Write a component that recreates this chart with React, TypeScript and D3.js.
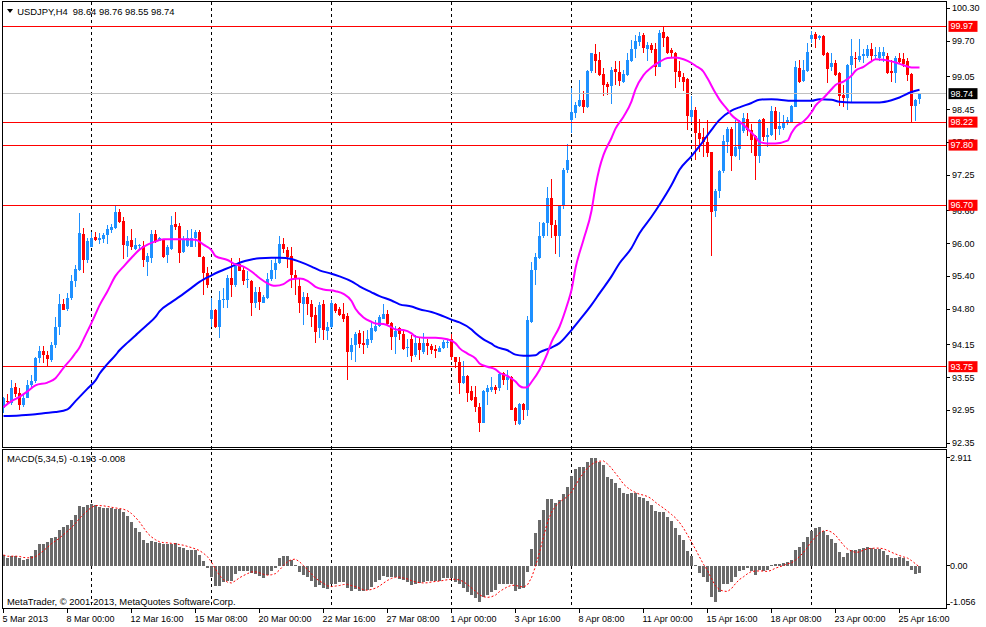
import * as d3 from 'd3';

// USDJPY H4 bars, 5 Mar 2013 08:00 .. 26 Apr 2013
const opens = [
  93.00, 93.12, 93.08, 93.37, 93.27, 93.05, 93.18, 93.42, 93.48, 93.90,
  94.04, 93.96, 93.87, 94.15, 94.48, 94.90, 94.80, 95.00, 95.32, 95.52,
  96.18, 95.70, 95.94, 96.12, 96.07, 96.08, 96.16, 96.24, 96.28, 96.58,
  96.42, 95.96, 96.07, 95.91, 95.95, 95.96, 95.67, 95.74, 96.17, 96.05,
  96.07, 95.79, 95.90, 96.36, 96.32, 95.85, 95.96, 95.94, 96.11, 96.22,
  95.76, 95.46, 94.62, 94.79, 94.48, 94.96, 94.96, 95.38, 95.24, 95.62,
  95.52, 95.33, 95.32, 94.91, 95.12, 94.92, 95.00, 95.36, 95.52, 95.64,
  95.99, 95.88, 95.77, 95.43, 95.23, 94.90, 95.03, 94.90, 94.70, 94.45,
  94.90, 94.40, 94.47, 94.90, 94.80, 94.71, 94.68, 94.01, 94.15, 94.36,
  94.19, 94.15, 94.24, 94.41, 94.49, 94.63, 94.71, 94.54, 94.30, 94.45,
  94.35, 94.10, 94.25, 93.96, 94.18, 94.02, 94.19, 94.13, 94.07, 94.02,
  94.09, 94.19, 94.25, 93.92, 93.84, 93.45, 93.58, 93.31, 93.19, 93.02,
  92.73, 93.29, 93.32, 93.38, 93.36, 93.63, 93.50, 93.57, 92.99, 92.71,
  93.07, 92.96, 94.57, 95.52, 95.73, 96.13, 96.37, 96.83, 96.34, 96.13,
  96.68, 97.35, 98.25, 98.38, 98.52, 98.63, 98.49, 99.15, 99.46, 99.36,
  99.10, 98.92, 98.88, 99.19, 99.14, 98.96, 99.08, 99.33, 99.55, 99.69,
  99.81, 99.55, 99.63, 99.55, 99.23, 99.87, 99.77, 99.53, 99.49, 99.16,
  99.05, 99.00, 98.32, 98.45, 98.02, 97.95, 97.86, 97.68, 96.59, 96.97,
  97.32, 97.86, 98.09, 97.60, 97.73, 98.05, 98.27, 98.07, 97.97, 97.60,
  98.27, 97.95, 97.99, 98.43, 98.09, 98.11, 98.21, 98.23, 98.50, 99.20,
  98.98, 99.16, 99.73, 99.83, 99.75, 99.79, 99.49, 99.22, 99.30, 99.12,
  98.72, 98.66, 99.26, 99.39, 99.36, 99.42, 99.42, 99.55, 99.42, 99.39,
  99.43, 99.42, 99.16, 99.11, 99.40, 99.37, 99.33, 99.10, 98.51, 98.64,
];
const highs = [
  93.20, 93.26, 93.51, 93.45, 93.36, 93.23, 93.51, 93.60, 93.93, 94.12,
  94.12, 94.03, 94.21, 94.66, 95.08, 94.99, 95.09, 95.43, 95.61, 96.55,
  96.29, 96.10, 96.22, 96.22, 96.19, 96.19, 96.34, 96.36, 96.69, 96.63,
  96.49, 96.13, 96.26, 96.10, 96.00, 96.04, 95.83, 96.25, 96.25, 96.12,
  96.08, 95.97, 96.50, 96.57, 96.38, 96.13, 96.25, 96.27, 96.25, 96.25,
  95.77, 95.58, 95.00, 94.80, 95.13, 95.18, 95.43, 95.73, 95.64, 95.73,
  95.59, 95.50, 95.34, 95.21, 95.21, 95.06, 95.46, 95.70, 95.76, 96.14,
  96.10, 95.94, 95.94, 95.52, 95.38, 95.12, 95.09, 94.97, 94.85, 94.94,
  94.97, 94.57, 94.96, 94.92, 94.85, 94.92, 94.74, 94.27, 94.39, 94.42,
  94.41, 94.42, 94.59, 94.60, 94.70, 94.90, 94.79, 94.57, 94.49, 94.47,
  94.42, 94.25, 94.33, 94.33, 94.27, 94.37, 94.25, 94.16, 94.15, 94.13,
  94.24, 94.24, 94.35, 93.93, 93.92, 93.86, 93.60, 93.40, 93.39, 93.08,
  93.33, 93.42, 93.57, 93.42, 93.66, 93.66, 93.69, 93.58, 93.02, 93.09,
  93.09, 94.68, 95.67, 95.82, 96.40, 96.40, 97.04, 97.18, 96.43, 96.69,
  97.38, 97.82, 98.84, 98.59, 98.99, 98.78, 99.17, 99.49, 99.65, 99.51,
  99.20, 98.96, 99.23, 99.33, 99.33, 99.17, 99.48, 99.72, 99.81, 99.86,
  99.84, 99.69, 99.67, 99.66, 99.90, 99.95, 99.80, 99.57, 99.51, 99.33,
  99.11, 99.02, 98.70, 98.49, 98.27, 98.11, 98.25, 97.68, 97.00, 97.35,
  97.99, 98.13, 98.13, 98.26, 98.26, 98.38, 98.38, 98.19, 97.99, 98.27,
  98.29, 98.11, 98.52, 98.49, 98.41, 98.35, 98.32, 98.53, 99.34, 99.36,
  99.36, 99.67, 99.89, 99.86, 99.81, 99.81, 99.51, 99.49, 99.36, 99.14,
  98.90, 99.28, 99.73, 99.51, 99.73, 99.55, 99.63, 99.67, 99.60, 99.60,
  99.59, 99.49, 99.36, 99.43, 99.48, 99.48, 99.40, 99.11, 98.64, 98.76,
];
const lows = [
  92.90, 93.05, 93.05, 93.20, 92.96, 93.02, 93.18, 93.36, 93.45, 93.81,
  93.81, 93.75, 93.84, 94.09, 94.33, 94.78, 94.76, 94.97, 95.21, 95.49,
  95.46, 95.64, 95.93, 96.04, 96.00, 96.01, 96.00, 96.19, 96.26, 96.38,
  95.71, 95.76, 95.88, 95.88, 95.89, 95.57, 95.41, 95.64, 96.01, 96.04,
  95.73, 95.64, 95.88, 96.25, 95.65, 95.83, 95.94, 95.93, 95.93, 95.75,
  95.06, 95.18, 94.48, 94.45, 94.28, 94.82, 94.82, 95.03, 95.20, 95.49,
  95.24, 95.18, 94.68, 94.82, 94.79, 94.91, 94.98, 95.32, 95.35, 95.63,
  95.82, 95.55, 95.18, 95.06, 94.73, 94.51, 94.69, 94.48, 94.18, 94.28,
  94.24, 94.24, 94.45, 94.73, 94.68, 94.57, 93.50, 93.88, 93.84, 94.09,
  93.98, 94.09, 94.18, 94.39, 94.47, 94.62, 94.51, 94.06, 93.99, 94.24,
  94.06, 93.93, 93.84, 93.93, 93.88, 93.99, 93.96, 93.98, 93.90, 94.01,
  94.07, 94.09, 93.88, 93.72, 93.25, 93.43, 93.11, 93.13, 92.93, 92.55,
  92.72, 93.05, 93.29, 93.26, 93.31, 93.42, 93.32, 92.95, 92.69, 92.69,
  92.78, 92.85, 94.54, 95.24, 95.71, 96.10, 96.13, 96.10, 95.81, 95.75,
  96.64, 97.29, 98.03, 98.29, 98.49, 98.38, 98.47, 99.12, 99.11, 99.06,
  98.69, 98.72, 98.56, 98.90, 98.88, 98.93, 99.06, 99.31, 99.39, 99.61,
  99.48, 99.33, 99.48, 99.06, 99.22, 99.60, 99.47, 99.39, 98.84, 98.96,
  98.78, 98.08, 98.23, 97.53, 97.68, 97.59, 97.59, 95.77, 96.49, 96.83,
  97.29, 97.65, 97.32, 97.59, 97.53, 98.02, 97.97, 97.65, 97.16, 97.48,
  97.88, 97.77, 97.97, 97.89, 97.99, 98.08, 98.17, 98.20, 98.49, 98.93,
  98.96, 99.14, 99.66, 99.57, 99.72, 99.43, 98.94, 99.16, 99.06, 98.52,
  98.49, 98.44, 98.58, 99.20, 99.31, 99.30, 99.39, 99.31, 99.37, 99.34,
  99.31, 99.10, 98.96, 98.94, 99.28, 99.23, 98.98, 98.20, 98.24, 98.55,
];
const closes = [
  93.17, 93.10, 93.36, 93.26, 93.05, 93.17, 93.42, 93.48, 93.90, 94.04,
  93.96, 93.89, 94.15, 94.47, 94.90, 94.79, 95.00, 95.32, 95.54, 96.19,
  95.70, 96.05, 96.10, 96.07, 96.11, 96.16, 96.27, 96.31, 96.58, 96.40,
  95.97, 96.05, 95.93, 95.97, 95.97, 95.70, 95.77, 96.17, 96.05, 96.10,
  95.76, 95.93, 96.34, 96.31, 95.82, 96.08, 96.10, 96.11, 96.21, 95.76,
  95.46, 95.24, 94.79, 94.48, 94.97, 94.98, 95.38, 95.24, 95.61, 95.50,
  95.31, 95.35, 94.91, 95.12, 94.94, 95.03, 95.36, 95.52, 95.65, 95.99,
  95.90, 95.76, 95.43, 95.35, 94.91, 95.03, 94.90, 94.66, 94.39, 94.88,
  94.42, 94.47, 94.92, 94.76, 94.70, 94.63, 94.01, 94.15, 94.35, 94.17,
  94.15, 94.25, 94.45, 94.49, 94.65, 94.71, 94.53, 94.30, 94.41, 94.35,
  94.07, 94.11, 93.95, 94.18, 94.06, 94.19, 94.12, 94.06, 94.04, 94.10,
  94.21, 94.21, 93.92, 93.84, 93.45, 93.58, 93.27, 93.15, 93.02, 92.73,
  93.31, 93.36, 93.38, 93.32, 93.62, 93.51, 93.56, 92.96, 92.75, 93.07,
  92.96, 94.60, 95.52, 95.75, 96.13, 96.37, 96.83, 96.34, 96.14, 96.68,
  97.35, 97.53, 98.41, 98.53, 98.63, 98.50, 99.16, 99.48, 99.33, 99.09,
  98.90, 98.87, 99.17, 99.14, 98.98, 99.10, 99.36, 99.55, 99.71, 99.79,
  99.57, 99.63, 99.54, 99.22, 99.84, 99.75, 99.48, 99.48, 99.14, 99.04,
  98.96, 98.33, 98.45, 98.02, 97.92, 97.85, 97.66, 96.57, 96.97, 97.32,
  97.88, 98.09, 97.60, 97.77, 98.23, 98.29, 98.07, 97.89, 97.60, 98.25,
  97.95, 97.99, 98.43, 98.09, 98.14, 98.23, 98.25, 98.52, 99.23, 98.96,
  99.17, 99.51, 99.81, 99.73, 99.79, 99.45, 99.19, 99.30, 99.08, 98.70,
  98.66, 99.26, 99.42, 99.37, 99.42, 99.46, 99.55, 99.42, 99.45, 99.51,
  99.51, 99.12, 99.12, 99.40, 99.32, 99.29, 99.08, 98.52, 98.63, 98.74,
];

// MACD(5,34,5) main histogram
const macdMain = [
  0.29, 0.22, 0.26, 0.26, 0.22, 0.15, 0.18, 0.26, 0.42, 0.58,
  0.58, 0.65, 0.75, 0.78, 0.96, 1.05, 1.11, 1.23, 1.37, 1.61,
  1.59, 1.64, 1.65, 1.63, 1.59, 1.56, 1.55, 1.55, 1.53, 1.52,
  1.46, 1.35, 1.17, 1.02, 0.90, 0.69, 0.60, 0.66, 0.65, 0.62,
  0.58, 0.58, 0.58, 0.60, 0.51, 0.49, 0.42, 0.42, 0.42, 0.29,
  0.13, -0.05, -0.30, -0.54, -0.54, -0.43, -0.41, -0.41, -0.23, -0.14,
  -0.14, -0.14, -0.19, -0.21, -0.28, -0.34, -0.25, -0.14, -0.05, 0.20,
  0.26, 0.26, 0.15, 0.02, -0.16, -0.25, -0.30, -0.41, -0.57, -0.52,
  -0.59, -0.63, -0.50, -0.50, -0.45, -0.45, -0.61, -0.67, -0.63, -0.67,
  -0.67, -0.66, -0.57, -0.45, -0.39, -0.27, -0.30, -0.30, -0.31, -0.36,
  -0.39, -0.43, -0.52, -0.48, -0.46, -0.43, -0.41, -0.41, -0.41, -0.41,
  -0.34, -0.32, -0.34, -0.43, -0.48, -0.59, -0.70, -0.79, -0.88, -0.97,
  -0.84, -0.79, -0.70, -0.66, -0.50, -0.50, -0.48, -0.50, -0.67, -0.63,
  -0.61, -0.16, 0.45, 0.87, 1.23, 1.50, 1.80, 1.80, 1.68, 1.77,
  1.92, 2.13, 2.42, 2.60, 2.67, 2.67, 2.80, 2.91, 2.91, 2.79,
  2.71, 2.40, 2.33, 2.22, 2.10, 1.95, 1.92, 1.95, 1.95, 1.86,
  1.83, 1.74, 1.64, 1.47, 1.46, 1.46, 1.32, 1.20, 1.01, 0.84,
  0.69, 0.40, 0.26, 0.02, -0.19, -0.30, -0.43, -0.84, -0.97, -0.70,
  -0.48, -0.48, -0.45, -0.30, -0.14, -0.12, -0.07, -0.14, -0.25, -0.12,
  -0.14, -0.12, 0.02, 0.04, 0.04, 0.06, 0.09, 0.15, 0.42, 0.51,
  0.63, 0.78, 0.93, 1.01, 1.05, 0.93, 0.83, 0.71, 0.60, 0.38,
  0.24, 0.33, 0.42, 0.42, 0.45, 0.49, 0.51, 0.47, 0.45, 0.45,
  0.40, 0.29, 0.22, 0.22, 0.24, 0.22, 0.13, -0.12, -0.21, -0.193,
];

// moving averages at selected bars
const fastMaBars = [
  0, 2, 4, 6, 8, 11, 13, 14, 15, 17, 18, 19, 20, 22, 23, 24, 26, 28, 30, 32,
  34, 36, 38, 40, 45, 48, 50, 52, 53, 56, 58, 60, 62, 64, 67, 68, 70, 72, 74, 76,
  78, 80, 83, 85, 87, 88, 90, 92, 93, 95, 97, 98, 100, 102, 103, 105, 108, 111, 113, 114,
  116, 118, 119, 121, 123, 124, 126, 128, 129, 130, 131, 132, 134, 136, 137, 139, 141, 142, 143, 145,
  147, 148, 149, 150, 152, 153, 155, 157, 158, 160, 162, 164, 166, 168, 170, 172, 173, 175, 176, 178,
  179, 181, 182, 184, 186, 188, 189, 191, 193, 196, 197, 198, 200, 202, 203, 205, 207, 208, 210, 212,
  213, 215, 217, 218, 220, 222, 223, 225, 227, 229,
];
const fastMa = [
  93.01, 93.12, 93.20, 93.30, 93.41, 93.46, 93.54, 93.63, 93.73, 93.90, 94.00, 94.10, 94.25, 94.55, 94.71, 94.87, 95.13, 95.41, 95.58, 95.74,
  95.89, 95.98, 96.04, 96.08, 96.08, 96.07, 95.98, 95.88, 95.77, 95.70, 95.62, 95.58, 95.49, 95.37, 95.24, 95.23, 95.26, 95.35, 95.36, 95.32,
  95.21, 95.16, 95.13, 95.08, 94.95, 94.81, 94.65, 94.57, 94.54, 94.53, 94.47, 94.43, 94.42, 94.36, 94.30, 94.28, 94.28, 94.25, 94.18, 94.09,
  93.99, 93.90, 93.81, 93.75, 93.70, 93.64, 93.58, 93.48, 93.40, 93.37, 93.38, 93.47, 93.69, 94.00, 94.20, 94.48, 94.90, 95.15, 95.55, 96.07,
  96.60, 97.04, 97.38, 97.62, 97.93, 98.10, 98.32, 98.60, 98.82, 99.08, 99.22, 99.32, 99.39, 99.40, 99.37, 99.30, 99.25, 99.14, 99.02, 98.75,
  98.63, 98.45, 98.35, 98.23, 98.10, 97.95, 97.86, 97.83, 97.83, 97.88, 98.02, 98.13, 98.23, 98.40, 98.52, 98.66, 98.82, 98.90, 98.96, 99.07,
  99.16, 99.23, 99.33, 99.37, 99.36, 99.33, 99.31, 99.26, 99.22, 99.22,
];
const slowMaBars = [
  0, 4, 8, 10, 13, 16, 18, 21, 23, 24, 26, 28, 29, 31, 33, 34, 36, 38, 39, 42,
  44, 47, 49, 52, 54, 57, 59, 62, 64, 67, 69, 72, 74, 77, 79, 82, 84, 87, 89, 92,
  94, 97, 99, 102, 104, 107, 109, 112, 114, 117, 118, 120, 122, 123, 126, 128, 130, 133, 134, 137,
  139, 142, 144, 147, 149, 152, 154, 157, 159, 162, 164, 167, 169, 172, 174, 177, 179, 182, 184, 187,
  189, 192, 194, 197, 199, 202, 204, 207, 209, 212, 219, 222, 224, 227, 229,
];
const slowMa = [
  92.85, 92.86, 92.88, 92.90, 92.92, 92.97, 93.12, 93.35, 93.50, 93.62, 93.80, 93.96, 94.05, 94.19, 94.32, 94.39, 94.52, 94.66, 94.76, 94.93,
  95.03, 95.19, 95.30, 95.42, 95.49, 95.58, 95.65, 95.71, 95.73, 95.74, 95.74, 95.72, 95.67, 95.58, 95.51, 95.45, 95.40, 95.31, 95.22, 95.11,
  95.04, 94.96, 94.89, 94.85, 94.80, 94.75, 94.70, 94.61, 94.56, 94.43, 94.36, 94.25, 94.17, 94.12, 94.05, 93.97, 93.95, 93.96, 94.01, 94.10,
  94.18, 94.42, 94.60, 94.88, 95.09, 95.40, 95.64, 95.92, 96.19, 96.49, 96.71, 97.07, 97.35, 97.60, 97.78, 98.08, 98.26, 98.43, 98.49, 98.57,
  98.63, 98.64, 98.63, 98.61, 98.61, 98.61, 98.64, 98.63, 98.59, 98.58, 98.58, 98.62, 98.67, 98.77, 98.81,
];

const priceTicks = ['100.30', '99.70', '99.05', '98.45', '97.85', '97.25', '96.60', '96.00', '95.40', '94.80', '94.15', '93.55', '92.95', '92.35'];
const macdTicks = ['2.911', '0.00', '-1.056'];
const timeLabels = [
  '5 Mar 2013', '8 Mar 00:00', '12 Mar 16:00', '15 Mar 08:00', '20 Mar 00:00', '22 Mar 16:00', '27 Mar 08:00',
  '1 Apr 00:00', '3 Apr 16:00', '8 Apr 08:00', '11 Apr 00:00', '15 Apr 16:00', '18 Apr 08:00', '23 Apr 00:00', '25 Apr 16:00',
];
const weekStartBars = [22, 52, 82, 112, 142, 172, 202];
const levelLines = [99.97, 98.22, 97.80, 96.70, 93.75];
const bidPrice = 98.74;

const FONT = '"Liberation Sans", Arial, sans-serif';
const BULL = '#1E90FF';
const BEAR = '#FF0000';

export default function App() {
  const width = 986;
  const height = 627;
  const left = 2.5;
  const right = 946.5;
  const mainTop = 1.5;
  const mainBottom = 447.5;
  const subTop = 449.5;
  const subBottom = 608.5;

  const x = d3.scaleLinear().domain([0, 1]).range([3.5, 7.5]);
  const y = d3.scaleLinear().domain([92.35, 100.3]).range([443.3, 8.3]);
  const ym = d3.scaleLinear().domain([-1.056, 2.911]).range([604.9, 457.7]);

  const signal = macdMain.map((_, i) => d3.mean(macdMain.slice(Math.max(0, i - 4), i + 1)) as number);

  const maLine = d3.line<number>().curve(d3.curveMonotoneX);
  const fastPath = maLine(fastMaBars.map((b, i) => [x(b), y(fastMa[i])]) as any);
  const slowPath = maLine(slowMaBars.map((b, i) => [x(b), y(slowMa[i])]) as any);
  const signalPath = d3.line<number>()
    .x((_, i) => x(i))
    .y(d => ym(d))(signal);

  return (
    <div style={{ position: 'absolute', left: 0, top: 0 }}>
      <svg width={width} height={height} style={{ display: 'block', background: '#fff' }}>
        <defs>
          <clipPath id="mainClip">
            <rect x={left + 0.5} y={mainTop + 0.5} width={right - left - 1} height={mainBottom - mainTop - 1} />
          </clipPath>
          <clipPath id="subClip">
            <rect x={left + 0.5} y={subTop + 0.5} width={right - left - 1} height={subBottom - subTop - 1} />
          </clipPath>
        </defs>

        {/* week separators */}
        {weekStartBars.map(b => (
          <line key={'w' + b} x1={x(b)} x2={x(b)} y1={mainTop} y2={subBottom}
            stroke="#000" strokeDasharray="3,3" shapeRendering="crispEdges" />
        ))}

        <g clipPath="url(#mainClip)">
          {/* candles */}
          {opens.map((o, i) => {
            const c = closes[i];
            const col = c >= o ? BULL : BEAR;
            const top = y(Math.max(o, c));
            const bot = y(Math.min(o, c));
            const hi = Math.max(highs[i], o, c);
            const lo = Math.min(lows[i], o, c);
            return (
              <g key={i}>
                <line x1={x(i)} x2={x(i)} y1={y(hi)} y2={y(lo)} stroke={col} shapeRendering="crispEdges" />
                <rect x={x(i) - 1.5} y={top} width={3} height={Math.max(1, bot - top)} fill={col} shapeRendering="crispEdges" />
              </g>
            );
          })}

          {/* horizontal levels */}
          <line x1={left} x2={right} y1={y(bidPrice)} y2={y(bidPrice)} stroke="#C0C0C0" shapeRendering="crispEdges" />
          {levelLines.map(v => (
            <line key={'l' + v} x1={left} x2={right} y1={y(v)} y2={y(v)} stroke="#FF0000" shapeRendering="crispEdges" />
          ))}

          {/* moving averages */}
          <path d={slowPath || ''} fill="none" stroke="#0000FF" strokeWidth={2} />
          <path d={fastPath || ''} fill="none" stroke="#FF00FF" strokeWidth={2} />
        </g>

        <g clipPath="url(#subClip)">
          {macdMain.map((v, i) => {
            const y0 = ym(0);
            const y1 = ym(v);
            return (
              <rect key={'m' + i} x={x(i) - 1.5} y={Math.min(y0, y1)} width={3}
                height={Math.max(1, Math.abs(y1 - y0))} fill="#6A6A6A" shapeRendering="crispEdges" />
            );
          })}
          <path d={signalPath || ''} fill="none" stroke="#FF0000" strokeDasharray="2,2" />
        </g>

        {/* frames */}
        <g stroke="#000" fill="none" shapeRendering="crispEdges">
          <rect x={left} y={mainTop} width={right - left} height={mainBottom - mainTop} />
          <rect x={left} y={subTop} width={right - left} height={subBottom - subTop} />
        </g>

        {/* price axis */}
        <g fontFamily={FONT} fontSize={9} fill="#000">
          {priceTicks.map(t => (
            <g key={'p' + t}>
              <line x1={right} x2={right + 3} y1={y(+t)} y2={y(+t)} stroke="#000" shapeRendering="crispEdges" />
              <text x={952} y={y(+t)} dominantBaseline="central">{t}</text>
            </g>
          ))}
          {levelLines.map(v => (
            <g key={'b' + v}>
              <rect x={948.5} y={y(v) - 5.5} width={29} height={11} fill="#FF0000" />
              <text x={950.5} y={y(v)} dominantBaseline="central" fill="#fff">{v.toFixed(2)}</text>
            </g>
          ))}
          <rect x={948.5} y={y(bidPrice) - 5.5} width={29} height={11} fill="#000" />
          <text x={950.5} y={y(bidPrice)} dominantBaseline="central" fill="#fff">{bidPrice.toFixed(2)}</text>

          {macdTicks.map((t, i) => {
            const ty = ym(+t);
            return (
              <g key={'mt' + t}>
                <line x1={right} x2={right + 3} y1={ty} y2={ty} stroke="#000" shapeRendering="crispEdges" />
                <text x={950} y={i === 2 ? ty - 3 : ty} dominantBaseline="central">{t}</text>
              </g>
            );
          })}
        </g>

        {/* time axis */}
        <g fontFamily={FONT} fontSize={9} fill="#000">
          {timeLabels.map((t, k) => {
            const tx = x(k * 16);
            return (
              <g key={'t' + k}>
                <line x1={tx} x2={tx} y1={subBottom} y2={subBottom + 4} stroke="#000" shapeRendering="crispEdges" />
                <text x={tx - 1} y={622}>{t}</text>
              </g>
            );
          })}
        </g>

        {/* titles */}
        <polygon points="7,9 13,9 10,13" fill="#000" />
        <text x={17.3} y={14.5} fontFamily={FONT} fontSize={9.4} fill="#000" style={{ whiteSpace: 'pre' }}>
          {'USDJPY,H4  98.64 98.76 98.55 98.74'}
        </text>
        <text x={7} y={462} fontFamily={FONT} fontSize={9.4} fill="#000">MACD(5,34,5) -0.193 -0.008</text>
        <text x={7} y={605} fontFamily={FONT} fontSize={9.4} fill="#000">MetaTrader, © 2001-2013, MetaQuotes Software Corp.</text>
      </svg>
    </div>
  );
}
